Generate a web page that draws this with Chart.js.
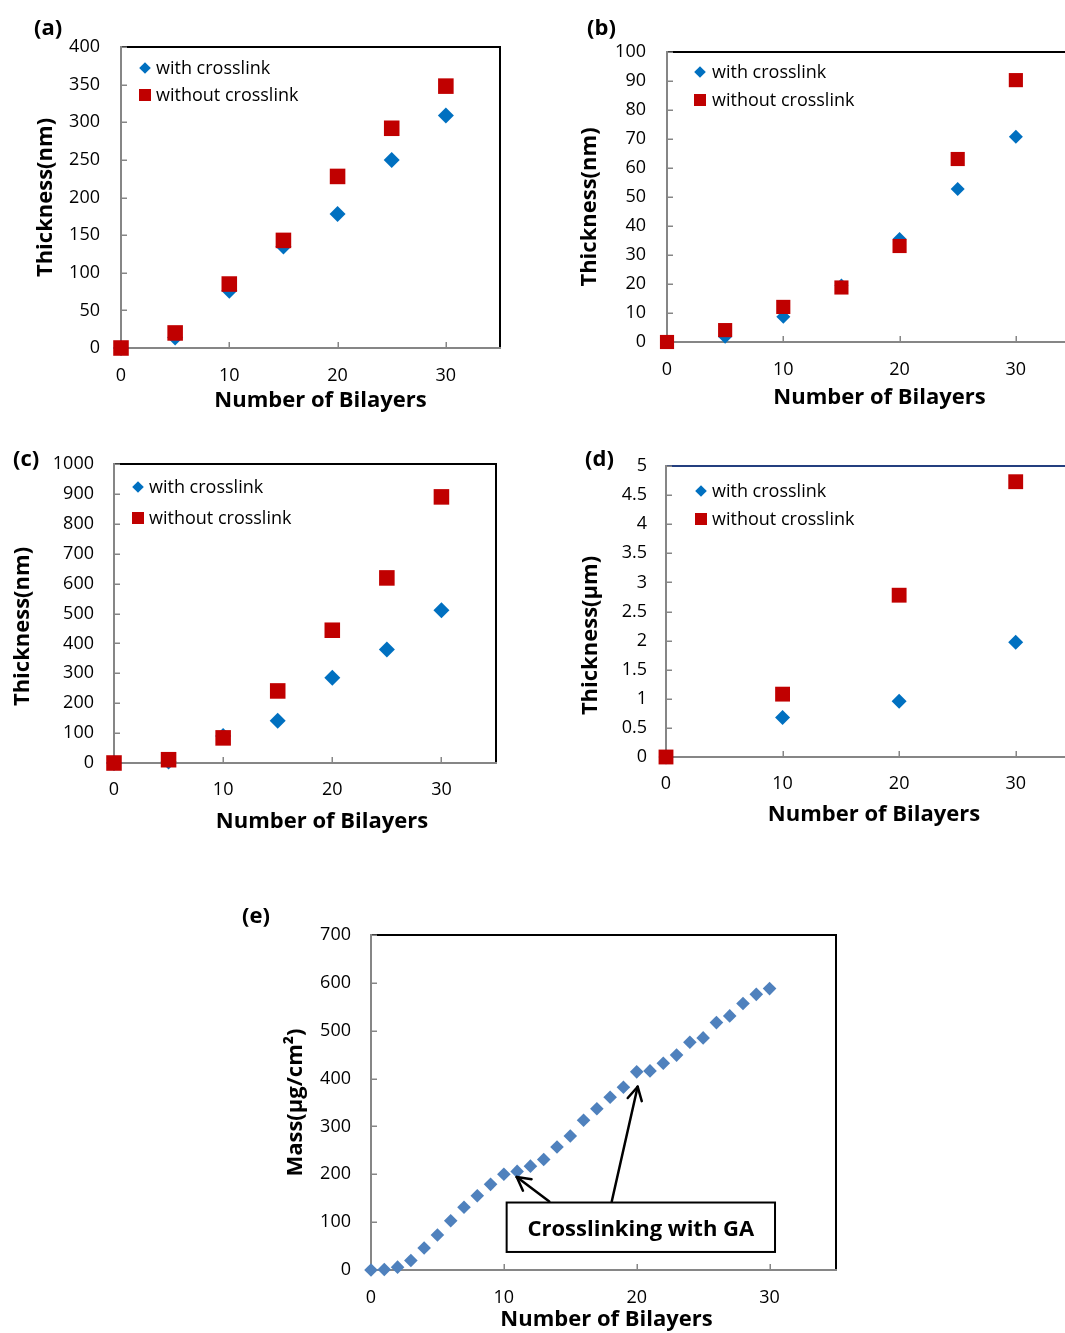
<!DOCTYPE html>
<html>
<head>
<meta charset="utf-8">
<script src="https://cdn.jsdelivr.net/npm/chart.js@4.4.1/dist/chart.umd.min.js"></script>
<style>
  html, body { margin: 0; padding: 0; background: #fff; overflow: hidden; }
  #page { position: relative; width: 1065px; height: 1333px; overflow: hidden; }
  canvas { position: absolute; }
  .tag { position: absolute; font: bold 22px "Open Sans", sans-serif; line-height: 26px; color: #000; }
</style>
</head>
<body>
<div id="page">
  <canvas id="chartA" width="520" height="420" style="left:0;top:0"></canvas>
  <canvas id="chartB" width="560" height="420" style="left:540px;top:0"></canvas>
  <canvas id="chartC" width="520" height="400" style="left:0;top:440px"></canvas>
  <canvas id="chartD" width="560" height="400" style="left:540px;top:440px"></canvas>
  <canvas id="chartE" width="600" height="453" style="left:260px;top:880px"></canvas>
  <div class="tag" style="left:34px;top:13px">(a)</div>
  <div class="tag" style="left:587px;top:13px">(b)</div>
  <div class="tag" style="left:13px;top:444px">(c)</div>
  <div class="tag" style="left:585px;top:444px">(d)</div>
  <div class="tag" style="left:242px;top:901px">(e)</div>
</div>
<script>
// bilayer counts and measured values
const bilayers = [0, 5, 10, 15, 20, 25, 30];
const withA = [0, 14, 76, 135, 178, 250, 309];
const withoutA = [0, 20, 85, 143, 228, 292, 348];
const withB = [0, 1.8, 8.7, 19.5, 35.5, 52.8, 70.8];
const withoutB = [0, 4.1, 12.1, 18.8, 33.1, 63.1, 90.3];
const withC = [0, 5, 90, 141, 285, 380, 511];
const withoutC = [0, 11, 84, 241, 444, 619, 890];
const bilayersD = [0, 10, 20, 30];
const withD = [0, 0.68, 0.96, 1.97];
const withoutD = [0, 1.08, 2.78, 4.73];
const bilayersE = [0, 1, 2, 3, 4, 5, 6, 7, 8, 9, 10, 11, 12, 13, 14, 15,
  16, 17, 18, 19, 20, 21, 22, 23, 24, 25, 26, 27, 28, 29, 30];
const massE = [0, 1, 6, 20, 46, 73, 103, 131, 155, 179, 200, 206, 217, 231, 257, 280,
  313, 337, 361, 382, 414, 416, 432, 449, 476, 485, 517, 531, 557, 576, 588];

// tick labels
const xTicks = [0, 10, 20, 30];
const yTicksA = [0, 50, 100, 150, 200, 250, 300, 350, 400];
const yTicksB = [0, 10, 20, 30, 40, 50, 60, 70, 80, 90, 100];
const yTicksC = [0, 100, 200, 300, 400, 500, 600, 700, 800, 900, 1000];
const yTicksD = [0, 0.5, 1, 1.5, 2, 2.5, 3, 3.5, 4, 4.5, 5];
const yTicksE = [0, 100, 200, 300, 400, 500, 600, 700];

const blue = '#0070C0';
const red = '#C00000';
const steel = '#4F81BD';
const axisGrey = '#868686';
const tickFont = { family: '"Open Sans", sans-serif', size: 18 };
const boldCss = 'bold 22px "Open Sans", sans-serif';

function pts(xs, ys) {
  return xs.map((x, i) => ({ x: x, y: ys[i] }));
}

function line(ctx, x1, y1, x2, y2) {
  ctx.beginPath();
  ctx.moveTo(x1, y1);
  ctx.lineTo(x2, y2);
  ctx.stroke();
}

// plot frame, inward ticks, legend, axis titles and callout
const framePlugin = {
  id: 'frame',
  beforeDatasetsDraw(chart, args, opts) {
    const { ctx, chartArea: a, scales: { x, y } } = chart;
    ctx.save();
    ctx.lineWidth = 2;
    ctx.strokeStyle = opts.topColor || '#000';
    line(ctx, a.left, a.top, a.right + 1, a.top);
    ctx.strokeStyle = '#000';
    line(ctx, a.right, a.top, a.right, a.bottom);
    ctx.strokeStyle = axisGrey;
    line(ctx, a.left, a.top - 1, a.left, a.bottom + 1);
    line(ctx, a.left, a.bottom, a.right + 1, a.bottom);
    ctx.lineWidth = 1.5;
    y.ticks.forEach(t => {
      const p = Math.round(y.getPixelForValue(t.value)) + 0.25;
      line(ctx, a.left, p, a.left + 6, p);
    });
    x.ticks.forEach(t => {
      const p = Math.round(x.getPixelForValue(t.value)) + 0.25;
      line(ctx, p, a.bottom, p, a.bottom - 6);
    });
    ctx.restore();
  },
  afterDraw(chart, args, opts) {
    const { ctx, chartArea: a, scales: { x, y } } = chart;
    ctx.save();
    if (opts.legend) {
      const lg = opts.legend;
      ctx.font = '18px "Open Sans", sans-serif';
      ctx.textBaseline = 'middle';
      ctx.textAlign = 'left';
      chart.data.datasets.forEach((ds, i) => {
        const cx = a.left + lg.dx;
        const cy = a.top + lg.dy + i * lg.gap;
        ctx.fillStyle = ds.backgroundColor;
        if (ds.pointStyle === 'rectRot') {
          ctx.beginPath();
          ctx.moveTo(cx - 5.8, cy);
          ctx.lineTo(cx, cy - 5.8);
          ctx.lineTo(cx + 5.8, cy);
          ctx.lineTo(cx, cy + 5.8);
          ctx.closePath();
          ctx.fill();
        } else {
          ctx.fillRect(cx - 6, cy - 6, 12, 12);
        }
        ctx.fillStyle = '#000';
        ctx.fillText(ds.label, a.left + lg.textDx, cy + 1);
      });
    }
    ctx.font = boldCss;
    ctx.fillStyle = '#000';
    ctx.textAlign = 'center';
    ctx.textBaseline = 'middle';
    if (opts.xTitle) {
      ctx.fillText(opts.xTitle.text, (a.left + a.right) / 2 + opts.xTitle.dx, opts.xTitle.y);
    }
    if (opts.yTitle) {
      ctx.save();
      ctx.translate(opts.yTitle.x, (a.top + a.bottom) / 2 + opts.yTitle.dy);
      ctx.rotate(-Math.PI / 2);
      ctx.fillText(opts.yTitle.text, 0, 0);
      ctx.restore();
    }
    if (opts.callout) {
      const c = opts.callout;
      ctx.strokeStyle = '#000';
      ctx.lineWidth = 2.5;
      ctx.lineCap = 'round';
      c.arrows.forEach(ar => {
        const x1 = x.getPixelForValue(ar[0]), y1 = y.getPixelForValue(ar[1]);
        const x2 = x.getPixelForValue(ar[2]), y2 = y.getPixelForValue(ar[3]);
        line(ctx, x1, y1, x2, y2);
        const ang = Math.atan2(y2 - y1, x2 - x1);
        [-0.5, 0.5].forEach(d => {
          line(ctx, x2, y2, x2 - 15 * Math.cos(ang + d), y2 - 15 * Math.sin(ang + d));
        });
      });
      const bx1 = x.getPixelForValue(c.box[0]), by1 = y.getPixelForValue(c.box[1]);
      const bx2 = x.getPixelForValue(c.box[2]), by2 = y.getPixelForValue(c.box[3]);
      ctx.fillStyle = '#fff';
      ctx.fillRect(bx1, by1, bx2 - bx1, by2 - by1);
      ctx.lineWidth = 2;
      ctx.lineCap = 'butt';
      ctx.strokeRect(bx1, by1, bx2 - bx1, by2 - by1);
      ctx.fillStyle = '#000';
      ctx.fillText(c.text, (bx1 + bx2) / 2, (by1 + by2) / 2 + 2);
    }
    ctx.restore();
  }
};

function makePanel(id, p) {
  const canvas = document.getElementById(id);
  const w = canvas.width, h = canvas.height;
  p.datasets.forEach(ds => { ds.clip = false; });
  return new Chart(canvas, {
    type: 'scatter',
    data: { datasets: p.datasets },
    options: {
      responsive: false,
      animation: false,
      events: [],
      layout: { padding: { left: 0, top: p.area.t, right: w - p.area.r, bottom: 0 } },
      plugins: {
        legend: { display: false },
        tooltip: { enabled: false },
        frame: { topColor: p.topColor, legend: p.legend, xTitle: p.xTitle, yTitle: p.yTitle, callout: p.callout }
      },
      scales: {
        x: {
          type: 'linear', min: 0, max: 35,
          grid: { display: false, drawTicks: false },
          border: { display: false },
          afterBuildTicks: s => { s.ticks = xTicks.map(v => ({ value: v })); },
          afterFit: s => { s.height = h - p.area.b; s.paddingLeft = 0; s.paddingRight = 0; },
          ticks: { color: '#000', font: tickFont, padding: p.xPad, callback: v => String(v) }
        },
        y: {
          type: 'linear', min: 0, max: p.yTicks[p.yTicks.length - 1],
          grid: { display: false, drawTicks: false },
          border: { display: false },
          afterBuildTicks: s => { s.ticks = p.yTicks.map(v => ({ value: v })); },
          afterFit: s => { s.width = p.area.l; s.paddingTop = 0; s.paddingBottom = 0; },
          ticks: { color: '#000', font: tickFont, padding: p.yPad, callback: v => String(v) }
        }
      }
    },
    plugins: [framePlugin]
  });
}

function pairSets(xs, withVals, withoutVals, rDiamond, rSquare) {
  return [
    { label: 'with crosslink', data: pts(xs, withVals), pointStyle: 'rectRot', pointRadius: rDiamond,
      backgroundColor: blue, borderWidth: 0, order: 1 },
    { label: 'without crosslink', data: pts(xs, withoutVals), pointStyle: 'rect', pointRadius: rSquare,
      backgroundColor: red, borderWidth: 0, order: 0 }
  ];
}

makePanel('chartA', {
  datasets: pairSets(bilayers, withA, withoutA, 8, 11),
  area: { l: 121, t: 47, r: 500, b: 348 },
  yTicks: yTicksA, yPad: 21, xPad: 17,
  legend: { dx: 24, dy: 21, gap: 27, textDx: 35 },
  xTitle: { text: 'Number of Bilayers', dx: 10, y: 401 },
  yTitle: { text: 'Thickness(nm)', x: 46, dy: 0 }
});

makePanel('chartB', {
  datasets: pairSets(bilayers, withB, withoutB, 7, 10),
  area: { l: 127, t: 52, r: 534, b: 342 },
  yTicks: yTicksB, yPad: 21, xPad: 17,
  legend: { dx: 33, dy: 20, gap: 28, textDx: 45 },
  xTitle: { text: 'Number of Bilayers', dx: 9, y: 398 },
  yTitle: { text: 'Thickness(nm)', x: 50, dy: 10 }
});

makePanel('chartC', {
  datasets: pairSets(bilayers, withC, withoutC, 8, 11),
  area: { l: 114, t: 24, r: 496, b: 323 },
  yTicks: yTicksC, yPad: 20, xPad: 16,
  legend: { dx: 24, dy: 23, gap: 31, textDx: 35 },
  xTitle: { text: 'Number of Bilayers', dx: 17, y: 382 },
  yTitle: { text: 'Thickness(nm)', x: 23, dy: 13 }
});

makePanel('chartD', {
  datasets: pairSets(bilayersD, withD, withoutD, 7.5, 10.5),
  area: { l: 126, t: 26, r: 534, b: 317 },
  yTicks: yTicksD, yPad: 19, xPad: 16,
  topColor: '#243F7F',
  legend: { dx: 35, dy: 25, gap: 28, textDx: 46 },
  xTitle: { text: 'Number of Bilayers', dx: 4, y: 375 },
  yTitle: { text: 'Thickness(μm)', x: 51, dy: 24 }
});

makePanel('chartE', {
  datasets: [
    { label: 'mass', data: pts(bilayersE, massE), pointStyle: 'rectRot', pointRadius: 6.8,
      backgroundColor: steel, borderWidth: 0 }
  ],
  area: { l: 111, t: 55, r: 576, b: 390 },
  yTicks: yTicksE, yPad: 20, xPad: 17,
  xTitle: { text: 'Number of Bilayers', dx: 3, y: 440 },
  yTitle: { text: 'Mass(μg/cm²)', x: 36, dy: 0 },
  callout: {
    text: 'Crosslinking with GA',
    box: [10.21, 141, 30.41, 37.7],
    arrows: [[13.42, 143.2, 10.97, 194.3], [18.12, 143.2, 20.07, 383]]
  }
});
</script>
</body>
</html>
